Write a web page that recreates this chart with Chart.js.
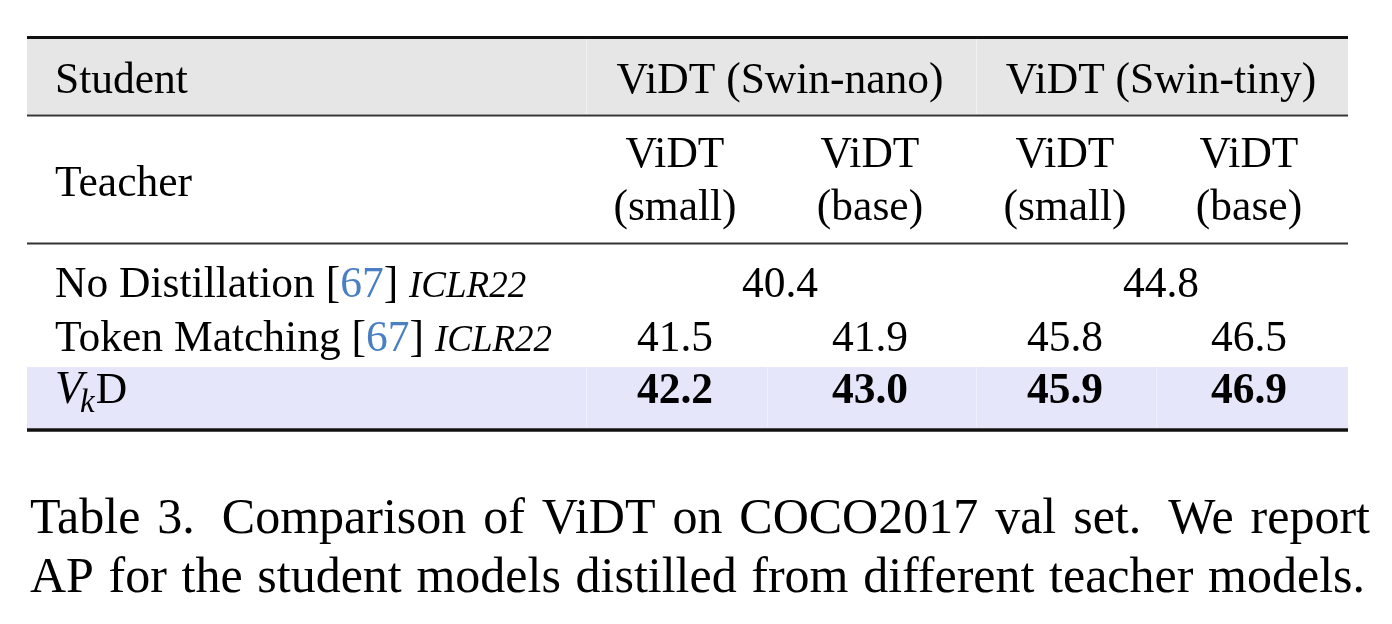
<!DOCTYPE html>
<html>
<head>
<meta charset="utf-8">
<script src="https://cdn.jsdelivr.net/npm/chart.js@4.4.0/dist/chart.umd.min.js"></script>
<style>
  html, body { margin: 0; padding: 0; background: #ffffff; }
  #wrap { width: 1392px; height: 624px; position: relative; }
</style>
</head>
<body>
<div id="wrap"><canvas id="c"></canvas></div>
<script>
// ---------------- DATA ----------------
const studentHeader = 'Student';
const teacherHeader = 'Teacher';
const students = ['ViDT (Swin-nano)', 'ViDT (Swin-tiny)'];
const teacherNames = ['ViDT', 'ViDT', 'ViDT', 'ViDT'];
const teacherSizes = ['(small)', '(base)', '(small)', '(base)'];
const methodNames = ['No Distillation', 'Token Matching', 'D'];
const methodCitations = ['67', '67', ''];
const methodVenues = ['ICLR22', 'ICLR22', ''];
const noDistillation = [40.4, 44.8];          // one per student
const tokenMatching = [41.5, 41.9, 45.8, 46.5];
const vkd = [42.2, 43.0, 45.9, 46.9];
const captionLine1 = ['Table', '3.', 'Comparison', 'of', 'ViDT', 'on', 'COCO2017', 'val', 'set.', 'We', 'report'];
const captionLine2 = ['AP', 'for', 'the', 'student', 'models', 'distilled', 'from', 'different', 'teacher', 'models.'];

// ---------------- LAYOUT (positions / styles only) ----------------
const L = {
  left: 27, right: 1348,
  labelX: 55,
  colX: [675, 870, 1065, 1249],
  groupX: [780, 1161],
  sepX: [586, 976],
  hiSepX: [586, 767, 976, 1156],
  topRule: 37.5, midRule: 115.5, teacherRule: 243.5, bottomRule: 430,
  headBand: [39, 114], hiBand: [367, 428],
  headBase: 93, teacherBase1: 167, teacherBase2: 220, teacherLabelBase: 196,
  rowBase: [297, 351, 403],
  capBase: [533, 592], capLeft: 30, capRight: [1370, 1365]
};
const SERIF = "'Liberation Serif', 'Times New Roman', Times, serif";
const F = (size, style) => (style ? style + ' ' : '') + size + 'px ' + SERIF;
const tableSize = 43.5;
const capSize = 50;

function drawRuns(ctx, runs, x, y) {
  let cx = x;
  for (const r of runs) {
    ctx.font = r.font;
    ctx.fillStyle = r.color || '#000';
    ctx.textAlign = 'left';
    ctx.fillText(r.t, cx, y + (r.dy || 0));
    cx += ctx.measureText(r.t).width + (r.kern || 0);
  }
}

function drawJustified(ctx, words, weights, x0, x1, y, font) {
  ctx.font = font;
  ctx.fillStyle = '#000';
  ctx.textAlign = 'left';
  const widths = words.map(w => ctx.measureText(w).width);
  const total = widths.reduce((a, b) => a + b, 0);
  const wsum = weights.reduce((a, b) => a + b, 0);
  const unit = ((x1 - x0) - total) / wsum;
  let cx = x0;
  words.forEach((w, i) => {
    ctx.fillText(w, cx, y);
    cx += widths[i] + (i < weights.length ? weights[i] * unit : 0);
  });
}

const tablePlugin = {
  id: 'tablePlugin',
  afterDraw(chart) {
    const ctx = chart.ctx;
    const xs = chart.scales.x, ys = chart.scales.y;
    const px = v => xs.getPixelForValue(v);
    const py = v => ys.getPixelForValue(v);
    ctx.save();
    ctx.textBaseline = 'alphabetic';

    // bands
    ctx.fillStyle = '#e6e6e6';
    ctx.fillRect(px(L.left), py(L.headBand[0]), px(L.right) - px(L.left), py(L.headBand[1]) - py(L.headBand[0]));
    ctx.fillStyle = '#e6e6fa';
    ctx.fillRect(px(L.left), py(L.hiBand[0]), px(L.right) - px(L.left), py(L.hiBand[1]) - py(L.hiBand[0]));

    // faint cell separators
    ctx.strokeStyle = 'rgba(255,255,255,0.45)';
    ctx.lineWidth = 1;
    L.sepX.forEach(x => {
      ctx.beginPath(); ctx.moveTo(px(x) + 0.5, py(L.headBand[0])); ctx.lineTo(px(x) + 0.5, py(L.headBand[1])); ctx.stroke();
    });
    L.hiSepX.forEach(x => {
      ctx.beginPath(); ctx.moveTo(px(x) + 0.5, py(L.hiBand[0])); ctx.lineTo(px(x) + 0.5, py(L.hiBand[1] - 1)); ctx.stroke();
    });

    // rules
    const rule = (y, w, c) => {
      ctx.strokeStyle = c; ctx.lineWidth = w;
      ctx.beginPath(); ctx.moveTo(px(L.left), py(y)); ctx.lineTo(px(L.right), py(y)); ctx.stroke();
    };
    rule(L.topRule, 3, '#111');
    rule(L.midRule, 2.2, '#333');
    rule(L.teacherRule, 2.2, '#333');
    rule(L.bottomRule, 3.5, '#111');

    // header row
    ctx.fillStyle = '#000';
    ctx.font = F(tableSize);
    ctx.textAlign = 'left';
    ctx.fillText(studentHeader, px(L.labelX), py(L.headBase));
    ctx.textAlign = 'center';
    students.forEach((s, i) => ctx.fillText(s, px(L.groupX[i]), py(L.headBase)));

    // teacher row
    ctx.textAlign = 'left';
    ctx.fillText(teacherHeader, px(L.labelX), py(L.teacherLabelBase));
    ctx.textAlign = 'center';
    teacherNames.forEach((t, i) => ctx.fillText(t, px(L.colX[i]), py(L.teacherBase1)));
    teacherSizes.forEach((t, i) => ctx.fillText(t, px(L.colX[i]), py(L.teacherBase2)));

    // method labels
    for (let r = 0; r < 2; r++) {
      drawRuns(ctx, [
        { t: methodNames[r] + ' [', font: F(tableSize) },
        { t: methodCitations[r], font: F(tableSize), color: '#4a80c2' },
        { t: '] ', font: F(tableSize) },
        { t: methodVenues[r], font: F(37, 'italic') }
      ], px(L.labelX), py(L.rowBase[r]));
    }
    drawRuns(ctx, [
      { t: 'V', font: F(46, 'italic'), kern: -3 },
      { t: 'k', font: F(33, 'italic'), dy: 9, kern: 1 },
      { t: methodNames[2], font: F(tableSize) }
    ], px(L.labelX), py(L.rowBase[2]));

    // values
    ctx.fillStyle = '#000';
    ctx.textAlign = 'center';
    ctx.font = F(tableSize);
    noDistillation.forEach((v, i) => ctx.fillText(v.toFixed(1), px(L.groupX[i]), py(L.rowBase[0])));
    tokenMatching.forEach((v, i) => ctx.fillText(v.toFixed(1), px(L.colX[i]), py(L.rowBase[1])));
    ctx.font = F(tableSize, 'bold');
    vkd.forEach((v, i) => ctx.fillText(v.toFixed(1), px(L.colX[i]), py(L.rowBase[2])));

    // caption
    const w1 = captionLine1.slice(0, -1).map(w => (w === '3.' || w === 'set.') ? 1.6 : 1);
    drawJustified(ctx, captionLine1, w1, px(L.capLeft), px(L.capRight[0]), py(L.capBase[0]), F(capSize));
    const w2 = captionLine2.slice(0, -1).map(() => 1);
    drawJustified(ctx, captionLine2, w2, px(L.capLeft), px(L.capRight[1]), py(L.capBase[1]), F(capSize));

    ctx.restore();
  }
};

new Chart(document.getElementById('c'), {
  type: 'scatter',
  data: { datasets: [{ data: [] }] },
  options: {
    responsive: true,
    maintainAspectRatio: false,
    animation: false,
    events: [],
    layout: { padding: 0 },
    plugins: { legend: { display: false }, tooltip: { enabled: false }, title: { display: false } },
    scales: {
      x: { type: 'linear', min: 0, max: 1392, display: false },
      y: { type: 'linear', min: 0, max: 624, reverse: true, display: false }
    }
  },
  plugins: [tablePlugin]
});
</script>
</body>
</html>
